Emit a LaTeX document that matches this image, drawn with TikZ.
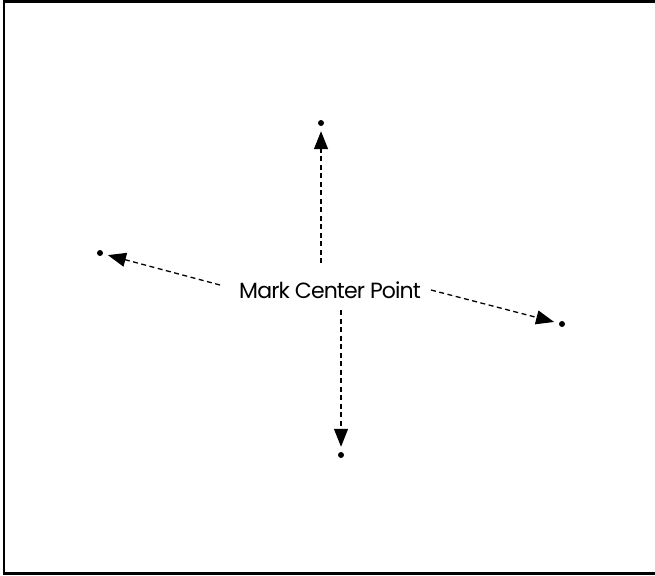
\documentclass[tikz,border=0pt]{standalone}
\usepackage{fontspec}
\setmainfont{Poppins}
\usetikzlibrary{arrows.meta}
\begin{document}
\begin{tikzpicture}[x=1pt,y=-1pt,
  dot/.style={circle,fill=black,inner sep=0pt,minimum size=6pt},
  link/.style={line width=1.3pt,dash pattern=on 5pt off 3.5pt,-{Triangle[length=18pt,width=14pt]}},
  frame/.style={line width=2.5pt}]
\useasboundingbox (0,0) rectangle (655,575);
\draw[frame] (4,1.5) -- (656,1.5);
\draw[frame] (4,0) -- (4,573.5) -- (656,573.5);
\node[font=\fontsize{22}{26}\selectfont\addfontfeature{LetterSpace=-4}] (lbl) at (330,290) {Mark Center Point};
\node[dot] (top) at (321,123) {};
\node[dot] (left) at (100,253) {};
\node[dot] (right) at (562,324) {};
\node[dot] (bottom) at (341,455) {};
\coordinate (st) at (321,263);
\coordinate (sl) at (220,285);
\coordinate (sr) at (431,290);
\coordinate (sb) at (341,310);
\draw[link,shorten >=5pt] (st) -- (top);
\draw[link,shorten >=5pt] (sl) -- (left);
\draw[link,shorten >=5pt] (sr) -- (right);
\draw[link,shorten >=5pt] (sb) -- (bottom);
\end{tikzpicture}
\end{document}
